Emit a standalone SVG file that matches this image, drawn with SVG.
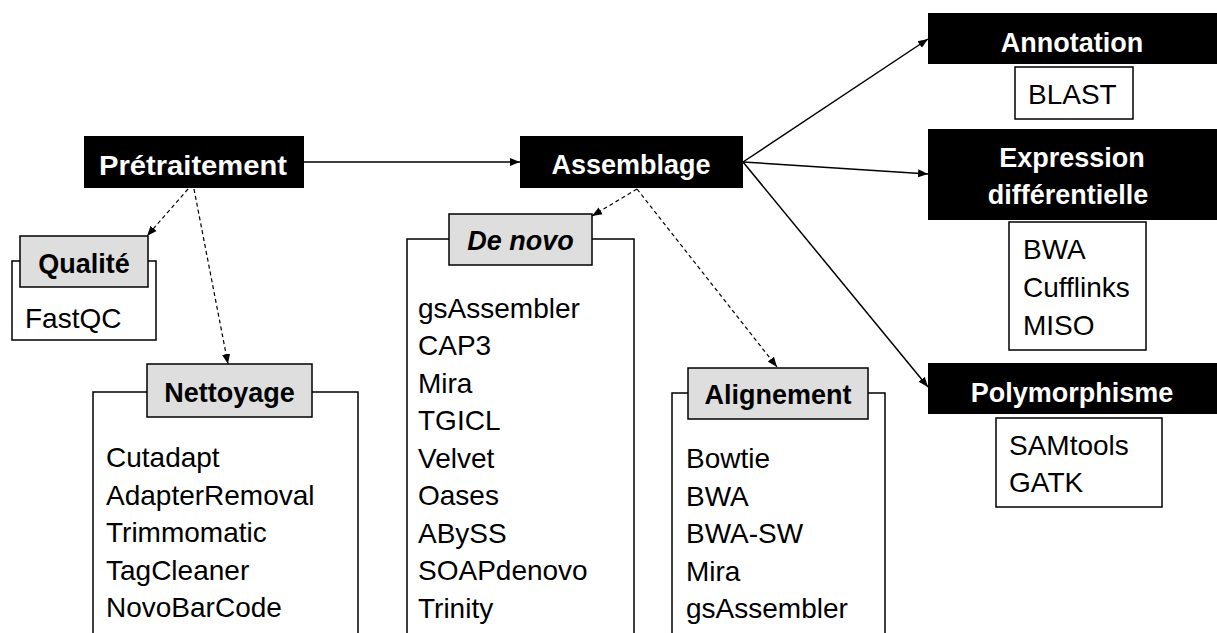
<svg xmlns="http://www.w3.org/2000/svg" width="1217" height="633" viewBox="0 0 1217 633">
<style>
.blk{fill:#000}
.wt{fill:#fff;font-family:"Liberation Sans",Arial,sans-serif;font-weight:bold;font-size:27px;text-anchor:middle}
.hdr{fill:#dedede;stroke:#000;stroke-width:1.5}
.ht{fill:#000;font-family:"Liberation Sans",Arial,sans-serif;font-weight:bold;font-size:27px;text-anchor:middle}
.frame{fill:none;stroke:#000;stroke-width:1.5}
.lt{fill:#000;font-family:"Liberation Sans",Arial,sans-serif;font-size:28px}
.sol{stroke:#000;stroke-width:1.5;fill:none;marker-end:url(#ah)}
.dsh{stroke:#000;stroke-width:1.2;fill:none;stroke-dasharray:4 3;marker-end:url(#ah)}
</style>
<defs>
<marker id="ah" viewBox="0 0 10 10" refX="10" refY="5" markerWidth="10" markerHeight="10" markerUnits="userSpaceOnUse" orient="auto">
<path d="M0,1 L10,5 L0,9 Z" fill="#000"/>
</marker>
</defs>
<g id="connectors">
<line class="sol" x1="304" y1="162" x2="520" y2="162"/>
<line class="sol" x1="743" y1="162" x2="928" y2="39"/>
<line class="sol" x1="743" y1="162" x2="928" y2="174"/>
<line class="sol" x1="743" y1="162" x2="928" y2="387"/>
<line class="dsh" x1="188" y1="189" x2="147" y2="236"/>
<line class="dsh" x1="194" y1="189" x2="228" y2="364"/>
<line class="dsh" x1="637" y1="189" x2="592" y2="216"/>
<line class="dsh" x1="637" y1="189" x2="777" y2="367"/>
</g>
<g id="pretraitement">
<rect class="blk" x="84" y="136" width="220" height="52"/>
<text class="wt" x="193" y="175" textLength="188" lengthAdjust="spacingAndGlyphs">Prétraitement</text>
</g>
<g id="assemblage">
<rect class="blk" x="520" y="136" width="223" height="52"/>
<text class="wt" x="631" y="174">Assemblage</text>
</g>
<g id="qualite">
<path class="frame" d="M20,261 H12 V340 H156 V261 H148"/>
<rect class="hdr" x="20" y="236" width="128" height="51"/>
<text class="ht" x="84" y="273">Qualité</text>
<text class="lt" x="25" y="328">FastQC</text>
</g>
<g id="nettoyage">
<path class="frame" d="M147,392 H93 V640 M358,640 V392 H312"/>
<rect class="hdr" x="147" y="364" width="165" height="53"/>
<text class="ht" x="229.5" y="402">Nettoyage</text>
<text class="lt" x="106" y="467">Cutadapt</text>
<text class="lt" x="106" y="505">AdapterRemoval</text>
<text class="lt" x="106" y="542">Trimmomatic</text>
<text class="lt" x="106" y="580">TagCleaner</text>
<text class="lt" x="106" y="617">NovoBarCode</text>
</g>
<g id="denovo">
<path class="frame" d="M449,239 H407 V640 M634,640 V239 H592"/>
<rect class="hdr" x="449" y="214" width="143" height="51"/>
<text class="ht" x="520.5" y="250" font-style="italic">De novo</text>
<text class="lt" x="418" y="318">gsAssembler</text>
<text class="lt" x="418" y="355">CAP3</text>
<text class="lt" x="418" y="393">Mira</text>
<text class="lt" x="418" y="430">TGICL</text>
<text class="lt" x="418" y="468">Velvet</text>
<text class="lt" x="418" y="505">Oases</text>
<text class="lt" x="418" y="543">ABySS</text>
<text class="lt" x="418" y="580">SOAPdenovo</text>
<text class="lt" x="418" y="618">Trinity</text>
</g>
<g id="alignement">
<path class="frame" d="M688,393 H672 V640 M885,640 V393 H868"/>
<rect class="hdr" x="688" y="368" width="180" height="51"/>
<text class="ht" x="778" y="404">Alignement</text>
<text class="lt" x="686" y="468">Bowtie</text>
<text class="lt" x="686" y="506">BWA</text>
<text class="lt" x="686" y="543">BWA-SW</text>
<text class="lt" x="686" y="581">Mira</text>
<text class="lt" x="686" y="618">gsAssembler</text>
</g>
<g id="annotation">
<rect class="blk" x="928" y="13" width="290" height="51"/>
<text class="wt" x="1072" y="52">Annotation</text>
<rect class="frame" x="1015" y="67" width="118" height="52"/>
<text class="lt" x="1028" y="104">BLAST</text>
</g>
<g id="expression">
<rect class="blk" x="928" y="129" width="290" height="91"/>
<text class="wt" x="1072" y="167">Expression</text>
<text class="wt" x="1068" y="204">différentielle</text>
<rect class="frame" x="1009" y="222" width="137" height="128"/>
<text class="lt" x="1023" y="259">BWA</text>
<text class="lt" x="1023" y="297">Cufflinks</text>
<text class="lt" x="1023" y="335">MISO</text>
</g>
<g id="polymorphisme">
<rect class="blk" x="928" y="363" width="290" height="51"/>
<text class="wt" x="1072" y="402">Polymorphisme</text>
<rect class="frame" x="996" y="418" width="166" height="89"/>
<text class="lt" x="1009" y="455">SAMtools</text>
<text class="lt" x="1009" y="492">GATK</text>
</g>
</svg>
